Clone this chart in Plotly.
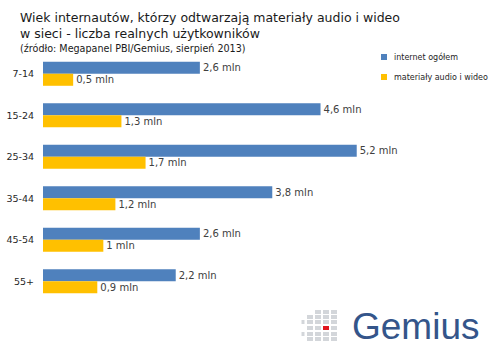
import plotly.graph_objects as go

categories = ["7-14", "15-24", "25-34", "35-44", "45-54", "55+"]
internet_total = [2.6, 4.6, 5.2, 3.8, 2.6, 2.2]
audio_video = [0.5, 1.3, 1.7, 1.2, 1.0, 0.9]
series_names = ["internet ogółem", "materiały audio i wideo"]
colors = ["#4F81BD", "#FFC000"]

W, H = 500, 359
ML, MR, MT, MB = 43, 95, 53, 57
PW, PH = W - ML - MR, H - MT - MB


def px2x(px):
    return (px - ML) / PW


def px2y(py):
    return (H - MB - py) / PH


def lab(v):
    return f"{v:g}".replace(".", ",") + " mln"


fig = go.Figure()
for name, vals, col in zip(series_names, [internet_total, audio_video], colors):
    fig.add_trace(go.Bar(
        y=categories, x=vals, orientation="h", name=name,
        marker=dict(color=col, line=dict(width=0)),
        text=[lab(v) for v in vals], textposition="outside",
        textfont=dict(family="DejaVu Sans", size=10, color="#404040"),
        cliponaxis=False, showlegend=False,
    ))

shapes = []
annotations = []

# title
annotations.append(dict(
    x=px2x(18), y=px2y(25.5), xref="paper", yref="paper", xanchor="left", yanchor="middle",
    text="Wiek internautów, którzy odtwarzają materiały audio i wideo<br>w sieci - liczba realnych użytkowników",
    showarrow=False, align="left",
    font=dict(family="DejaVu Sans", size=12.5, color="#1a1a1a"),
))
annotations.append(dict(
    x=px2x(18), y=px2y(48.5), xref="paper", yref="paper", xanchor="left", yanchor="middle",
    text="(źródło: Megapanel PBI/Gemius, sierpień 2013)", showarrow=False,
    font=dict(family="DejaVu Sans", size=9.6, color="#1a1a1a"),
))

# manual legend
for i, (name, col) in enumerate(zip(series_names, colors)):
    cy = 57 + 20 * i
    shapes.append(dict(type="rect", xref="paper", yref="paper",
                       x0=px2x(381), x1=px2x(387), y0=px2y(cy + 3), y1=px2y(cy - 3),
                       fillcolor=col, line=dict(width=0)))
    annotations.append(dict(x=px2x(392), y=px2y(cy), xref="paper", yref="paper",
                            xanchor="left", yanchor="middle", text=name, showarrow=False,
                            font=dict(family="DejaVu Sans", size=8, color="#262626")))

# Gemius logo
cols_x = [303, 310, 318, 326, 334]
rows_y = [312, 317, 322, 328, 334, 339]
col_rows = [[2, 4], [1, 2, 3, 4, 5], [0, 1, 2, 3, 4, 5], [0, 1, 2, 3, 4, 5], [0, 1, 2, 3, 4, 5]]
for ci, rws in enumerate(col_rows):
    for ri in rws:
        cx, cy = cols_x[ci], rows_y[ri]
        s = 1.5 if ci == 0 else 3
        red = (ci == 3 and ri == 3)
        shapes.append(dict(type="rect", xref="paper", yref="paper",
                           x0=px2x(cx - s), x1=px2x(cx + s), y0=px2y(cy + 2), y1=px2y(cy - 2),
                           fillcolor="#E0161E" if red else "#D3D6DA", line=dict(width=0)))
annotations.append(dict(x=px2x(350), y=px2y(326), xref="paper", yref="paper",
                        xanchor="left", yanchor="middle", text="Gemius", showarrow=False,
                        font=dict(family="Liberation Sans", size=37, color="#34558A")))

fig.update_layout(
    width=W, height=H,
    margin=dict(l=ML, r=MR, t=MT, b=MB, pad=0, autoexpand=False),
    paper_bgcolor="white", plot_bgcolor="white",
    barmode="group", bargap=0.42, bargroupgap=0,
    xaxis=dict(range=[0, 6], visible=False, automargin=False),
    yaxis=dict(autorange="reversed", showgrid=False, showline=False, ticks="",
               ticklabelstandoff=8, automargin=False,
               tickfont=dict(family="DejaVu Sans", size=9.5, color="#262626")),
    shapes=shapes, annotations=annotations,
    showlegend=False,
)

fig.write_html("out.html", config={"displayModeBar": False},
               post_script="document.body.style.margin='0';document.body.style.overflow='hidden';")
